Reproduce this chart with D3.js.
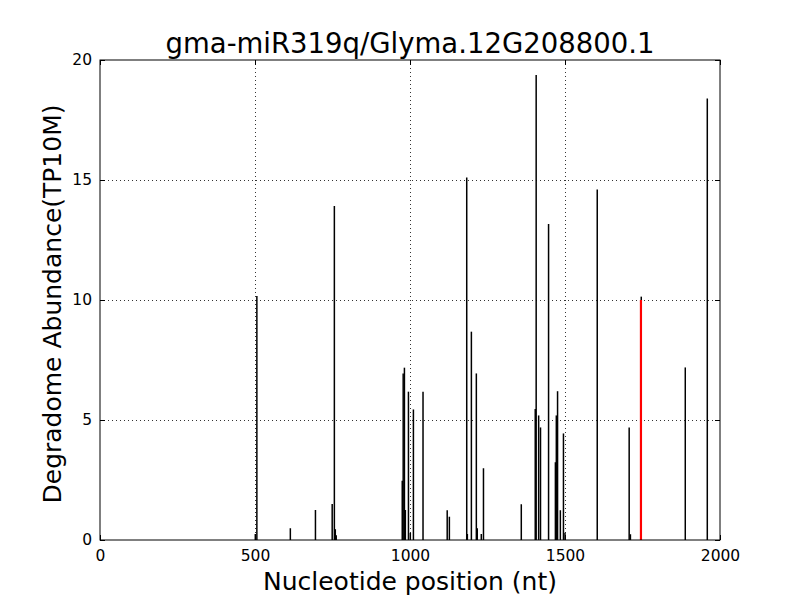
<!DOCTYPE html>
<html>
<head>
<meta charset="utf-8">
<script src="https://cdn.jsdelivr.net/npm/d3@7"></script>
<style>
  body { margin: 0; background: #fff; }
  text { font-family: "DejaVu Sans", sans-serif; }
</style>
</head>
<body>
<svg width="800" height="600"></svg>
<script>
// degradome reads: position (nt) and abundance (TP10M)
var positions = [501, 506, 614, 695, 749, 756, 759, 762, 975, 978, 982, 985, 995, 1001, 1011, 1042,
  1120, 1127, 1183, 1185, 1198, 1214, 1217, 1230, 1237, 1359, 1404, 1407, 1415, 1421, 1447,
  1469, 1472, 1476, 1485, 1495, 1500, 1604, 1707, 1711, 1746, 1888, 1959];
var abundance = [0.25, 10.17, 0.49, 1.25, 1.5, 13.92, 0.45, 0.2, 2.47, 6.94, 7.18, 1.25, 6.18, 0.3, 5.44, 6.18,
  1.24, 0.97, 15.1, 0.25, 8.68, 6.94, 0.49, 0.25, 2.99, 1.49, 5.46, 19.38, 5.19, 4.69, 13.17,
  3.24, 5.19, 6.2, 1.24, 4.44, 0.3, 14.6, 4.69, 0.24, 10.14, 7.19, 18.4];
var targetPos = [1745];
var targetVal = [10.0];
var xTicks = [0, 500, 1000, 1500, 2000];
var yTicks = [0, 5, 10, 15, 20];

var margin = {left: 100, top: 60, right: 80, bottom: 60};
var width = 800 - margin.left - margin.right;
var height = 600 - margin.top - margin.bottom;

var svg = d3.select('svg');
var g = svg.append('g').attr('transform', 'translate(' + margin.left + ',' + margin.top + ')');

var x = d3.scaleLinear().domain([0, 2000]).range([0, width]);
var y = d3.scaleLinear().domain([0, 20]).range([height, 0]);

// grid
g.selectAll('line.gx').data(xTicks.slice(1, -1)).enter().append('line')
  .attr('x1', function(d){ return x(d) + 0.5 })
  .attr('x2', function(d){ return x(d) + 0.5 })
  .attr('y1', 0).attr('y2', height)
  .attr('stroke', '#000').attr('stroke-width', 0.8).attr('stroke-dasharray', '1,3');
g.selectAll('line.gy').data(yTicks.slice(1, -1)).enter().append('line')
  .attr('y1', function(d){ return y(d) + 0.5 })
  .attr('y2', function(d){ return y(d) + 0.5 })
  .attr('x1', 0).attr('x2', width)
  .attr('stroke', '#000').attr('stroke-width', 0.8).attr('stroke-dasharray', '1,3');

var reads = positions.map(function(p, i){ return {p: p, v: abundance[i]} });
g.selectAll('line.read').data(reads).enter().append('line')
  .attr('x1', function(d){ return x(d.p) })
  .attr('x2', function(d){ return x(d.p) })
  .attr('y1', height)
  .attr('y2', function(d){ return y(d.v) })
  .attr('stroke', '#000').attr('stroke-width', 1.5);

var target = targetPos.map(function(p, i){ return {p: p, v: targetVal[i]} });
g.selectAll('line.target').data(target).enter().append('line')
  .attr('x1', function(d){ return x(d.p) })
  .attr('x2', function(d){ return x(d.p) })
  .attr('y1', height)
  .attr('y2', function(d){ return y(d.v) })
  .attr('stroke', '#ff0000').attr('stroke-width', 2.2);

// axes, ticks pointing inward on all sides
var fmt = d3.format('d');
var axB = g.append('g').attr('transform', 'translate(0,' + height + ')')
  .call(d3.axisBottom(x).tickValues(xTicks).tickFormat(fmt).tickSizeInner(-5).tickSizeOuter(0).tickPadding(10));
var axT = g.append('g')
  .call(d3.axisTop(x).tickValues(xTicks).tickFormat('').tickSizeInner(-5).tickSizeOuter(0));
var axL = g.append('g')
  .call(d3.axisLeft(y).tickValues(yTicks).tickFormat(fmt).tickSizeInner(-5).tickSizeOuter(0).tickPadding(8));
var axR = g.append('g').attr('transform', 'translate(' + width + ',0)')
  .call(d3.axisRight(y).tickValues(yTicks).tickFormat('').tickSizeInner(-5).tickSizeOuter(0));
[axB, axT, axL, axR].forEach(function(a){
  a.select('.domain').remove();
  a.selectAll('text').attr('font-size', 15.5).attr('font-family', 'DejaVu Sans').attr('fill', '#000');
});

g.append('rect').attr('x', 0).attr('y', 0).attr('width', width).attr('height', height)
  .attr('fill', 'none').attr('stroke', '#000').attr('stroke-width', 1);

svg.append('text').attr('x', 410).attr('y', 53).attr('text-anchor', 'middle')
  .attr('font-size', 27.5).text('gma-miR319q/Glyma.12G208800.1');
svg.append('text').attr('x', 410).attr('y', 590).attr('text-anchor', 'middle')
  .attr('font-size', 25).text('Nucleotide position (nt)');
svg.append('text').attr('transform', 'translate(61,304) rotate(-90)').attr('text-anchor', 'middle')
  .attr('font-size', 25).text('Degradome Abundance(TP10M)');
</script>
</body>
</html>
